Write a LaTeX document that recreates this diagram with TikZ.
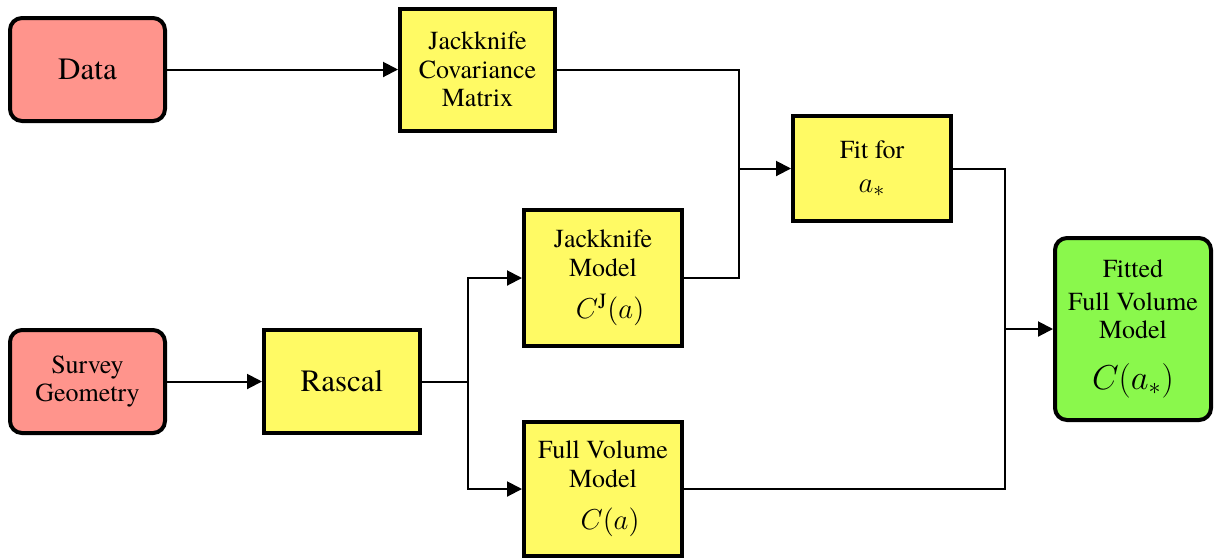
\documentclass[tikz,border=0pt]{standalone}
\usepackage{fontspec}
\setmainfont{texgyretermes}[Extension=.otf, UprightFont=*-regular,
    BoldFont=*-bold, ItalicFont=*-italic, BoldItalicFont=*-bolditalic]
\usetikzlibrary{arrows.meta}

\definecolor{salmon}{HTML}{FF948C}
\definecolor{amarillo}{HTML}{FFFA64}
\definecolor{verde}{HTML}{8AF84C}
\newcommand{\textogrande}{\fontsize{15.5}{17}\selectfont}
\newcommand{\textoenorme}{\fontsize{16.5}{18}\selectfont}

\tikzset{
    caja/.style={draw, line width=2pt, fill=amarillo, align=center, inner sep=0pt,
        font=\rmfamily\fontsize{13}{14.2}\selectfont},
    entrada/.style={caja, fill=salmon, rounded corners=6pt},
    salida/.style={caja, fill=verde, rounded corners=6pt},
    flecha/.style={line width=1pt, -{Triangle[length=7.5pt,width=7.5pt]}},
    linea/.style={line width=1pt}
}

\begin{document}
\begin{tikzpicture}[x=0.5pt, y=-0.5pt]
        % Parámetros
        \def\ancho{77.5pt}   % Ancho de las cajas de entrada
        \def\alto{51.5pt}    % Alto de las cajas de entrada

        % Marco de la figura
        \useasboundingbox (0,0) rectangle (1214,559);

        % Cajas de entrada
        \node[entrada, minimum width=\ancho, minimum height=\alto] (datos) at (87.5,69.5) {\textogrande Data};
        \node[entrada, minimum width=\ancho, minimum height=\alto] (geometria) at (87.5,381.5) {Survey\\Geometry};

        % Cajas intermedias
        \node[caja, minimum width=77.5pt, minimum height=61pt] (covarianza) at (477.5,69.5) {Jackknife\\Covariance\\Matrix};
        \node[caja, minimum width=78pt, minimum height=\alto] (rascal) at (342,381.5) {\textogrande Rascal};
        \node[caja, minimum width=79pt, minimum height=68pt] (modeloJ) at (603,278)
            {Jackknife\\Model\\[7pt]\hspace*{7pt}{\textogrande$C^{\mathrm{J}}(a)$}};
        \node[caja, minimum width=79pt, minimum height=67pt] (modelo) at (603,489)
            {Full Volume\\Model\\[7pt]\hspace*{7pt}{\textogrande$C(a)$}};
        \node[caja, minimum width=79pt, minimum height=52.5pt] (ajuste) at (872,168.5)
            {Fit for\\[3pt]{\textogrande$a_*$}};

        % Caja de salida
        \node[salida, minimum width=78pt, minimum height=91pt] (final) at (1133,329)
            {Fitted\\[2pt]Full Volume\\Model\\[11pt]{\textoenorme$C(a_*)$}};

        % Puntos de unión
        \coordinate (union1) at (739,168.5);
        \coordinate (union2) at (468,381.5);
        \coordinate (union3) at (1005,329);

        % Conexiones
        \draw[flecha] (datos) -- (covarianza);
        \draw[flecha] (geometria) -- (rascal);
        \draw[linea] (covarianza) -| (union1);
        \draw[linea] (modeloJ) -| (union1);
        \draw[flecha] (union1) -- (ajuste);
        \draw[linea] (rascal) -- (union2);
        \draw[flecha] (union2) |- (modeloJ);
        \draw[flecha] (union2) |- (modelo);
        \draw[linea] (ajuste) -| (union3);
        \draw[linea] (modelo) -| (union3);
        \draw[flecha] (union3) -- (final);
    \end{tikzpicture}
\end{document}
